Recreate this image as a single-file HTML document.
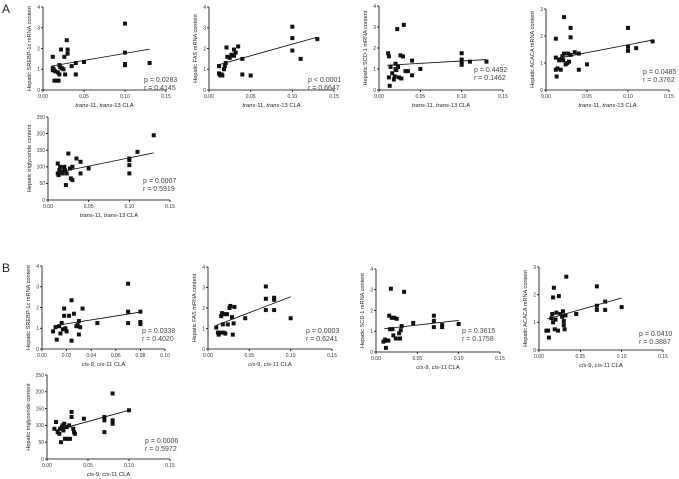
<!DOCTYPE html>
<html><head><meta charset="utf-8"><style>
html,body{margin:0;padding:0;background:#fff;}
svg{display:block;font-family:"Liberation Sans",sans-serif;}
</style></head><body>
<svg id="fig" width="679" height="479" viewBox="0 0 679 479"></svg>
<script>
const ptsA1=[[0.012,1.6],[0.012,1.05],[0.012,0.95],[0.013,1.0],[0.014,0.45],[0.015,0.9],[0.017,0.45],[0.018,0.85],[0.019,0.45],[0.02,0.75],[0.02,1.2],[0.021,1.1],[0.022,1.95],[0.023,1.05],[0.025,1.0],[0.026,1.6],[0.027,0.75],[0.029,2.4],[0.03,1.95],[0.03,1.75],[0.035,1.15],[0.04,1.3],[0.04,0.75],[0.05,1.35],[0.1,3.2],[0.1,1.8],[0.1,1.25],[0.1,1.2],[0.13,1.3]];
const ptsA2=[[0.012,1.15],[0.012,0.8],[0.013,0.75],[0.014,0.7],[0.015,0.75],[0.016,0.7],[0.018,1.0],[0.019,1.15],[0.02,1.3],[0.021,2.05],[0.022,1.6],[0.025,1.55],[0.027,1.7],[0.03,1.65],[0.03,1.95],[0.032,1.8],[0.035,2.1],[0.04,1.5],[0.04,0.75],[0.05,0.7],[0.1,3.05],[0.1,2.5],[0.1,1.9],[0.11,1.5],[0.13,2.45]];
const ptsA3=[[0.011,1.75],[0.012,1.6],[0.012,0.6],[0.013,0.2],[0.014,1.1],[0.016,0.8],[0.018,0.5],[0.019,0.65],[0.02,1.25],[0.02,1.0],[0.021,0.95],[0.022,2.9],[0.023,1.1],[0.024,0.6],[0.026,1.65],[0.027,0.55],[0.029,1.6],[0.03,3.1],[0.032,0.9],[0.035,0.9],[0.04,1.4],[0.04,0.7],[0.05,1.0],[0.1,1.75],[0.1,1.45],[0.1,1.3],[0.1,1.2],[0.11,1.35],[0.13,1.35]];
const ptsA4=[[0.012,1.9],[0.012,1.2],[0.012,0.75],[0.013,0.5],[0.014,0.8],[0.016,1.1],[0.018,0.75],[0.019,1.15],[0.02,1.25],[0.021,1.1],[0.022,1.35],[0.022,2.7],[0.024,0.95],[0.026,1.0],[0.027,1.35],[0.028,1.05],[0.03,2.3],[0.03,1.95],[0.03,1.3],[0.035,1.4],[0.04,1.35],[0.04,0.75],[0.05,0.95],[0.1,2.3],[0.1,1.6],[0.1,1.45],[0.11,1.55],[0.13,1.8]];
const ptsA5=[[0.012,110],[0.012,80],[0.013,75],[0.014,90],[0.015,100],[0.017,85],[0.018,80],[0.02,95],[0.02,100],[0.021,90],[0.022,45],[0.023,80],[0.025,140],[0.027,95],[0.028,65],[0.03,100],[0.03,60],[0.035,125],[0.04,115],[0.04,80],[0.05,95],[0.1,125],[0.1,120],[0.1,105],[0.1,80],[0.11,145],[0.13,195]];
const ptsB1=[[0.009,0.85],[0.011,1.05],[0.012,0.45],[0.014,1.1],[0.015,0.75],[0.016,1.25],[0.017,0.95],[0.018,1.6],[0.018,1.95],[0.019,1.0],[0.02,0.85],[0.022,1.6],[0.024,2.35],[0.024,0.4],[0.026,1.7],[0.028,1.1],[0.029,1.15],[0.03,1.35],[0.03,0.7],[0.031,1.05],[0.033,1.95],[0.045,1.25],[0.07,3.15],[0.07,1.8],[0.07,1.25],[0.08,1.8],[0.08,1.3],[0.08,1.2]];
const ptsB2=[[0.01,1.05],[0.012,0.8],[0.013,0.7],[0.015,0.8],[0.016,1.6],[0.017,1.75],[0.018,1.2],[0.019,0.8],[0.02,1.7],[0.021,0.75],[0.023,1.7],[0.024,1.2],[0.026,2.0],[0.027,2.1],[0.029,1.55],[0.03,0.7],[0.031,1.25],[0.032,2.05],[0.045,1.5],[0.07,3.05],[0.07,2.45],[0.07,1.9],[0.08,2.5],[0.08,2.4],[0.08,1.9],[0.1,1.5]];
const ptsB3=[[0.009,0.5],[0.011,0.6],[0.012,0.2],[0.013,0.55],[0.015,0.55],[0.016,1.75],[0.017,1.1],[0.018,3.05],[0.019,1.65],[0.02,1.1],[0.021,0.8],[0.022,1.65],[0.024,0.65],[0.025,1.6],[0.028,0.9],[0.029,0.65],[0.03,1.05],[0.031,1.25],[0.034,2.9],[0.045,1.4],[0.07,1.75],[0.07,1.5],[0.07,1.2],[0.08,1.3],[0.08,1.2],[0.1,1.35]];
const ptsB4=[[0.009,0.7],[0.011,0.7],[0.012,0.45],[0.015,1.15],[0.016,1.3],[0.017,1.0],[0.017,1.9],[0.018,2.25],[0.019,0.75],[0.02,1.1],[0.021,1.35],[0.023,0.7],[0.024,1.95],[0.026,1.3],[0.028,1.2],[0.029,1.4],[0.03,1.05],[0.03,0.9],[0.031,0.75],[0.032,1.25],[0.033,2.65],[0.045,1.3],[0.07,2.3],[0.07,1.6],[0.07,1.45],[0.08,1.75],[0.08,1.45],[0.1,1.55]];
const ptsB5=[[0.009,90],[0.011,110],[0.013,80],[0.015,75],[0.016,90],[0.017,50],[0.018,95],[0.019,100],[0.02,85],[0.021,105],[0.022,60],[0.024,95],[0.025,60],[0.027,100],[0.028,60],[0.03,140],[0.03,125],[0.032,90],[0.033,80],[0.034,75],[0.045,120],[0.07,125],[0.07,115],[0.07,80],[0.08,195],[0.08,115],[0.08,105],[0.1,145]];
const fitA=[[0.01,1.15,0.13,1.97],[0.01,1.2,0.13,2.55],[0.01,1.18,0.13,1.45],[0.01,1.15,0.13,1.85],[0.01,82,0.13,142]];
const fitB=[[0.01,1.12,0.08,1.78],[0.01,1.15,0.1,2.55],[0.01,1.12,0.1,1.52],[0.01,1.12,0.1,1.88],[0.01,85,0.1,145]];
const xTicks15=["0.00","0.05","0.10","0.15"];
const xTicks10=["0.00","0.02","0.04","0.06","0.08","0.10"];
const yTicks4=["0","1","2","3","4"];
const yTicks3=["0","1","2","3"];
const yTicks250=["0","50","100","150","200","250"];
const statsA=[["p = 0.0283","r = 0.4145"],["p < 0.0001","r = 0.6647"],["p = 0.4492","r = 0.1462"],["p = 0.0485","r = 0.3762"],["p = 0.0007","r = 0.5919"]];
const statsB=[["p = 0.0338","r = 0.4020"],["p = 0.0003","r = 0.6241"],["p = 0.3615","r = 0.1758"],["p = 0.0410","r = 0.3887"],["p = 0.0006","r = 0.5972"]];
const yTitles=["Hepatic SREBP-1c mRNA content","Hepatic FAS mRNA content","Hepatic SCD-1 mRNA content","Hepatic ACACA mRNA content","Hepatic triglyceride content"];

const NS="http://www.w3.org/2000/svg";
const svg=document.getElementById('fig');
function mk(tag,attrs,parent,txt){const e=document.createElementNS(NS,tag);for(const k in attrs)e.setAttribute(k,attrs[k]);if(txt!==undefined)e.textContent=txt;(parent||svg).appendChild(e);return e;}

const panels=[
 {id:"a1",pts:ptsA1,fit:fitA[0],st:statsA[0],yt:yTitles[0],xl:"trans",x0:43,x1:166,y0:90,y1:7,xt:xTicks15,xmax:0.15,ytk:yTicks4,ymax:4,sx:144,sy:82},
 {id:"a2",pts:ptsA2,fit:fitA[1],st:statsA[1],yt:yTitles[1],xl:"trans",x0:209,x1:334,y0:90,y1:7,xt:xTicks15,xmax:0.15,ytk:yTicks4,ymax:4,sx:308,sy:82},
 {id:"a3",pts:ptsA3,fit:fitA[2],st:statsA[2],yt:yTitles[2],xl:"trans",x0:379,x1:503,y0:90,y1:6,xt:xTicks15,xmax:0.15,ytk:yTicks4,ymax:4,sx:474,sy:72},
 {id:"a4",pts:ptsA4,fit:fitA[3],st:statsA[3],yt:yTitles[3],xl:"trans",x0:546,x1:669,y0:90,y1:9,xt:xTicks15,xmax:0.15,ytk:yTicks3,ymax:3,sx:643,sy:74},
 {id:"a5",pts:ptsA5,fit:fitA[4],st:statsA[4],yt:yTitles[4],xl:"trans",x0:48,x1:170,y0:200,y1:117,xt:xTicks15,xmax:0.15,ytk:yTicks250,ymax:250,sx:143,sy:183},
 {id:"b1",pts:ptsB1,fit:fitB[0],st:statsB[0],yt:yTitles[0],xl:"cis",x0:42,x1:165,y0:349,y1:266,xt:xTicks10,xmax:0.10,ytk:yTicks4,ymax:4,sx:142,sy:333},
 {id:"b2",pts:ptsB2,fit:fitB[1],st:statsB[1],yt:yTitles[1],xl:"cis",x0:208,x1:332,y0:349,y1:267,xt:xTicks15,xmax:0.15,ytk:yTicks4,ymax:4,sx:306,sy:333},
 {id:"b3",pts:ptsB3,fit:fitB[2],st:statsB[2],yt:yTitles[2],xl:"cis",x0:376,x1:500,y0:352,y1:269,xt:xTicks15,xmax:0.15,ytk:yTicks4,ymax:4,sx:462,sy:333},
 {id:"b4",pts:ptsB4,fit:fitB[3],st:statsB[3],yt:yTitles[3],xl:"cis",x0:539,x1:663,y0:350,y1:267,xt:xTicks15,xmax:0.15,ytk:yTicks3,ymax:3,sx:639,sy:336},
 {id:"b5",pts:ptsB5,fit:fitB[4],st:statsB[4],yt:yTitles[4],xl:"cis",x0:47,x1:170,y0:459,y1:375,xt:xTicks15,xmax:0.15,ytk:yTicks250,ymax:250,sx:145,sy:443}
];

panels.forEach(p=>{
  const g=mk('g',{});
  
  
  const X=v=>p.x0+(v/p.xmax)*(p.x1-p.x0);
  const Y=v=>p.y0-(v/p.ymax)*(p.y0-p.y1);
  const ax=mk('g',{stroke:'#000','stroke-width':0.8,fill:'none'},g);
  
  
  mk('line',{x1:p.x0,y1:p.y0,x2:p.x1,y2:p.y0},ax);
  mk('line',{x1:p.x0,y1:p.y0,x2:p.x0,y2:p.y1},ax);
  p.xt.forEach((t,i)=>{
    const v=i*p.xmax/(p.xt.length-1);
    mk('line',{x1:X(v),y1:p.y0,x2:X(v),y2:p.y0+2},ax);
    const tx=mk('text',{x:X(v),y:p.y0+8,'font-size':5,'text-anchor':'middle',fill:'#333'},g,t);
    
    
  });
  p.ytk.forEach((t,i)=>{
    const v=i*p.ymax/(p.ytk.length-1);
    mk('line',{x1:p.x0-2,y1:Y(v),x2:p.x0,y2:Y(v)},ax);
    const ty=mk('text',{x:p.x0-3,y:Y(v)+1.8,'font-size':5,'text-anchor':'end',fill:'#333'},g,t);
    
    
  });
  const ymid=(p.y0+p.y1)/2, yl=p.x0-(p.ymax>=100?17:12);
  const yt=mk('text',{x:yl,y:ymid,'font-size':5.6,'text-anchor':'middle',fill:'#222',transform:`rotate(-90 ${yl} ${ymid})`},g,p.yt);
  
  
  const xm=(p.x0+p.x1)/2;
  const xtl=mk('text',{x:xm,y:p.y0+17,'font-size':5.8,'text-anchor':'middle',fill:'#222'},g);
  
  
  const parts=p.xl==="trans"?[["trans",1],["-11, ",0],["trans",1],["-13 CLA",0]]:[["cis",1],["-9, ",0],["cis",1],["-11 CLA",0]];
  parts.forEach(([s,it])=>{const ts=mk('tspan',it?{'font-style':'italic'}:{},xtl,s);});
  const f=p.fit;
  const ln=mk('line',{x1:X(f[0]),y1:Y(f[1]),x2:X(f[2]),y2:Y(f[3]),stroke:'#000','stroke-width':0.8},g);
  
  
  p.pts.forEach(([a,b])=>{
    const r=mk('rect',{x:X(a)-2,y:Y(b)-2,width:4,height:4,fill:'#111'},g);
    
    
  });
  const s1=mk('text',{x:p.sx,y:p.sy,'font-size':7,fill:'#444'},g,p.st[0]);
  
  
  const s2=mk('text',{x:p.sx,y:p.sy+8,'font-size':7,fill:'#444'},g,p.st[1]);
  
  
});
const la=mk('text',{x:2,y:13,'font-size':12,fill:'#222'},svg,'A');


const lb=mk('text',{x:2,y:272,'font-size':12,fill:'#222'},svg,'B');


</script>
</body></html>
